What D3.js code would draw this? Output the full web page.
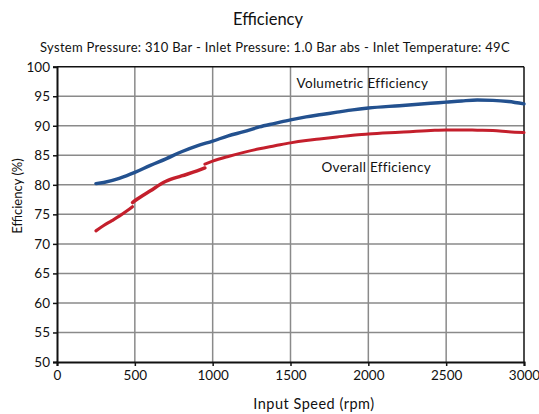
<!DOCTYPE html>
<html>
<head>
<meta charset="utf-8">
<script src="https://cdn.jsdelivr.net/npm/d3@7/dist/d3.min.js"></script>
<style>
  html, body { margin: 0; padding: 0; background: #fff; }
  svg text { font-family: Lato, "Open Sans", sans-serif; fill: #111; }
</style>
</head>
<body>
<svg id="chart" width="539" height="414"></svg>
<script>
// Input speed ticks and efficiency ticks
const xTicks = [0, 500, 1000, 1500, 2000, 2500, 3000];
const yTicks = [50, 55, 60, 65, 70, 75, 80, 85, 90, 95, 100];

// Volumetric efficiency (%) vs input speed (rpm)
const volRpm = [250, 300, 400, 500, 600, 700, 800, 900, 1000, 1100, 1200, 1300, 1400, 1500, 1600, 1700, 1800, 1900, 2000, 2200, 2400, 2500, 2600, 2700, 2800, 2900, 3000];
const volEff = [80.2, 80.4, 81.1, 82.1, 83.3, 84.4, 85.6, 86.6, 87.4, 88.3, 89.0, 89.8, 90.4, 91.0, 91.5, 91.9, 92.3, 92.7, 93.0, 93.4, 93.8, 94.0, 94.2, 94.35, 94.3, 94.1, 93.7];

// Overall efficiency (%) vs input speed (rpm), recorded in three runs
const ovRpm1 = [250, 300, 350, 400, 450, 485];
const ovEff1 = [72.2, 73.1, 73.9, 74.7, 75.6, 76.3];
const ovRpm2 = [485, 500, 600, 700, 800, 900, 950];
const ovEff2 = [77.0, 77.3, 79.0, 80.6, 81.5, 82.35, 82.85];
const ovRpm3 = [950, 1000, 1100, 1200, 1300, 1400, 1500, 1600, 1700, 1800, 1900, 2000, 2200, 2400, 2500, 2600, 2700, 2800, 2900, 3000];
const ovEff3 = [83.5, 84.0, 84.8, 85.5, 86.1, 86.6, 87.1, 87.5, 87.8, 88.1, 88.4, 88.6, 88.9, 89.2, 89.3, 89.3, 89.25, 89.2, 89.0, 88.85];

const svg = d3.select("#chart");
const plotL = 57, plotR = 524, plotT = 66.7, plotB = 362;

const x = d3.scaleLinear().domain([0, 3000]).range([plotL, plotR]);
const y = d3.scaleLinear().domain([50, 100]).range([plotB, plotT]);

// Grid
const grid = svg.append("g");
grid.selectAll("line.v").data(xTicks.slice(1, -1)).join("line")
  .attr("x1", d => x(d)).attr("x2", d => x(d))
  .attr("y1", plotT).attr("y2", plotB)
  .attr("stroke", "#8a8a8a").attr("stroke-width", 1.5);
grid.selectAll("line.h").data(yTicks.slice(1, -1)).join("line")
  .attr("x1", plotL).attr("x2", plotR)
  .attr("y1", d => y(d)).attr("y2", d => y(d))
  .attr("stroke", "#8a8a8a").attr("stroke-width", 1.5);

// Frame: top and right
svg.append("line").attr("x1", plotL).attr("x2", plotR).attr("y1", plotT).attr("y2", plotT)
  .attr("stroke", "#111").attr("stroke-width", 1.5);
svg.append("line").attr("x1", plotR).attr("x2", plotR).attr("y1", plotT).attr("y2", plotB)
  .attr("stroke", "#111").attr("stroke-width", 1.5);

// Axes
const xAxis = svg.append("g").attr("transform", `translate(0,${plotB})`)
  .call(d3.axisBottom(x).tickValues(xTicks).tickSize(4).tickPadding(4).tickFormat(d3.format("d")));
const yAxis = svg.append("g").attr("transform", `translate(${plotL},0)`)
  .call(d3.axisLeft(y).tickValues(yTicks).tickSize(4).tickPadding(3).tickFormat(d3.format("d")));
[xAxis, yAxis].forEach(a => {
  a.select(".domain").attr("stroke", "#111").attr("stroke-width", 2);
  a.selectAll(".tick line").attr("stroke", "#111").attr("stroke-width", 1.5);
  a.selectAll(".tick text").attr("font-size", 13.5).style("font-family", "Lato, sans-serif").attr("fill", "#111");
});

// Curves
const line = d3.line().x(d => x(d[0])).y(d => y(d[1])).curve(d3.curveMonotoneX);
const series = [
  { rpm: volRpm, eff: volEff, color: "#23518f", width: 3.4 },
  { rpm: ovRpm1, eff: ovEff1, color: "#c41f2c", width: 3.1 },
  { rpm: ovRpm2, eff: ovEff2, color: "#c41f2c", width: 3.5 },
  { rpm: ovRpm3, eff: ovEff3, color: "#c41f2c", width: 3.0 }
];
svg.append("g").selectAll("path").data(series).join("path")
  .attr("d", s => line(s.rpm.map((r, i) => [r, s.eff[i]])))
  .attr("fill", "none")
  .attr("stroke", s => s.color)
  .attr("stroke-width", s => s.width)
  .attr("stroke-linecap", "round");

// Curve labels
svg.append("text").attr("x", 296.5).attr("y", 87.5).attr("font-size", 13.5)
  .attr("letter-spacing", 0.3).text("Volumetric Efficiency");
svg.append("text").attr("x", 321.5).attr("y", 172).attr("font-size", 13.5)
  .attr("letter-spacing", 0.3).text("Overall Efficiency");

// Titles
svg.append("text").attr("x", 268).attr("y", 25).attr("text-anchor", "middle")
  .attr("font-size", 16.5).text("Efficiency");
svg.append("text").attr("x", 275).attr("y", 51.5).attr("text-anchor", "middle")
  .attr("font-size", 13).attr("letter-spacing", 0.3)
  .text("System Pressure: 310 Bar - Inlet Pressure: 1.0 Bar abs - Inlet Temperature: 49C");
svg.append("text").attr("x", 314).attr("y", 409).attr("text-anchor", "middle")
  .attr("font-size", 14.5).attr("letter-spacing", 0.5).text("Input Speed (rpm)");
svg.append("text").attr("transform", "translate(22,196) rotate(-90)").attr("text-anchor", "middle")
  .attr("font-size", 13).text("Efficiency (%)");
</script>
</body>
</html>
